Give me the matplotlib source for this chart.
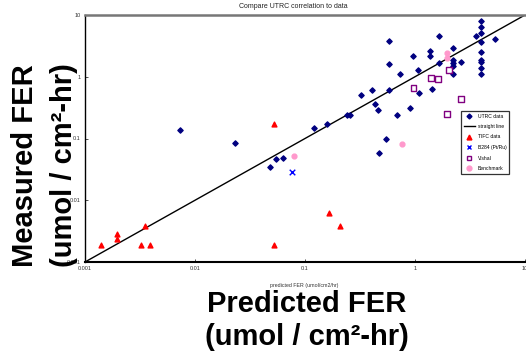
import matplotlib
matplotlib.use("Agg")
import matplotlib.pyplot as plt
from matplotlib.lines import Line2D

plt.rcParams['font.family'] = ['Liberation Sans', 'DejaVu Sans']

title = "Compare UTRC correlation to data"
xlabel_small = "predicted FER (umol/cm2/hr)"
big_line1_x = "Predicted FER"
big_line1_y = "Measured FER"
big_line2 = "(umol / cm\u00b2-hr)"
tick_vals = [0.001, 0.01, 0.1, 1, 10]
tick_labels = ["0.001", "0.01", "0.1", "1", "10"]

utrc_x = [0.0073, 0.122, 0.158, 0.241, 0.258, 0.322, 0.403, 0.432, 0.463,
          0.578, 0.578, 0.578, 0.54, 0.679, 0.728, 0.91, 0.968, 1.06, 1.096,
          1.38, 1.38, 1.43, 1.64, 1.64, 2.21, 2.21, 2.21, 2.21, 2.21, 2.6,
          3.56, 4.0, 4.0, 4.0, 4.0, 4.0, 4.0, 4.0, 4.0, 4.0, 5.32,
          0.0229, 0.0482, 0.054, 0.0628, 0.472]
utrc_y = [0.138, 0.149, 0.169, 0.237, 0.237, 0.506, 0.603, 0.361, 0.288,
          3.82, 1.58, 0.603, 0.1, 0.237, 1.11, 0.311, 2.18, 1.31, 0.546,
          2.6, 2.18, 0.634, 4.62, 1.66, 2.9, 1.88, 1.66, 1.48, 1.1, 1.72,
          4.62, 7.9, 6.3, 5.1, 3.64, 2.5, 1.88, 1.72, 1.39, 1.1, 4.03,
          0.085, 0.034, 0.046, 0.049, 0.059]

tifc_x = [0.052, 0.00139, 0.00194, 0.00194, 0.00322, 0.0035, 0.00388, 0.052, 0.164, 0.21]
tifc_y = [0.173, 0.00191, 0.00288, 0.00239, 0.00191, 0.00385, 0.00191, 0.00191, 0.00627, 0.00385]

b284_x = [0.0764]
b284_y = [0.0283]

vishal_x = [0.968, 1.39, 1.62, 2.04, 1.94, 2.6]
vishal_y = [0.667, 0.957, 0.91, 1.28, 0.252, 0.443]

bench_x = [1.94, 1.94, 0.0802, 0.769]
bench_y = [2.47, 2.02, 0.0524, 0.0807]

line_x = [0.001, 10]
line_y = [0.001, 10]

W, H = 526, 357
fig = plt.figure(figsize=(W / 100, H / 100), dpi=100)
ax = fig.add_axes([85 / W, 1 - 262 / H, 440 / W, 247 / H])

ax.plot(line_x, line_y, color='black', lw=1.0, label='straight line', zorder=2)
ax.scatter(utrc_x, utrc_y, marker='D', s=7, color='#000080', label='UTRC data', zorder=3)
ax.scatter(tifc_x, tifc_y, marker='^', s=12, color='#FF0000', label='TIFC data', zorder=3)
ax.scatter(b284_x, b284_y, marker='x', s=16, color='#0000FF', linewidths=1.0, label='B284 (Pt/Ru)', zorder=3)
ax.scatter(vishal_x, vishal_y, marker='s', s=18, facecolors='none', edgecolors='#800080',
           linewidths=1.0, label='Vishal', zorder=3)
ax.scatter(bench_x, bench_y, marker='o', s=12, color='#FF99CC', label='Benchmark', zorder=3)

ax.set_xscale('log')
ax.set_yscale('log')
ax.set_xlim(0.001, 10)
ax.set_ylim(0.001, 10)
ax.set_xticks(tick_vals)
ax.set_xticklabels(tick_labels)
ax.set_yticks(tick_vals)
ax.set_yticklabels(tick_labels)
ax.minorticks_off()
ax.tick_params(axis='both', direction='in', length=2, width=0.6, labelsize=4, pad=3, colors='#333333')

ax.spines['right'].set_visible(False)
ax.spines['top'].set_color('#777777')
ax.spines['top'].set_linewidth(1.8)
ax.spines['left'].set_linewidth(1.0)
ax.spines['bottom'].set_linewidth(1.5)

handles = [
    Line2D([], [], marker='D', ls='none', color='#000080', markersize=2.5),
    Line2D([], [], color='black', lw=1.0),
    Line2D([], [], marker='^', ls='none', color='#FF0000', markersize=3.5),
    Line2D([], [], marker='x', ls='none', color='#0000FF', markersize=3.5, mew=1.0),
    Line2D([], [], marker='s', ls='none', markerfacecolor='none', markeredgecolor='#800080',
           markersize=3.5, mew=1.0),
    Line2D([], [], marker='o', ls='none', color='#FF99CC', markersize=3.5),
]
labels = ['UTRC data', 'straight line', 'TIFC data', 'B284 (Pt/Ru)', 'Vishal', 'Benchmark']
leg = fig.legend(handles, labels, loc='upper left', bbox_to_anchor=(461 / W, 1 - 111 / H),
                 fontsize=3.6, frameon=True, fancybox=False, borderpad=0.5,
                 labelspacing=1.1, handlelength=2.2, handletextpad=0.6, borderaxespad=0)
leg.get_frame().set_edgecolor('black')
leg.get_frame().set_linewidth(0.9)

fig.text(293 / W, 1 - 6 / H, title, ha='center', va='center', fontsize=5, color='#222222')
fig.text(304 / W, 1 - 285 / H, xlabel_small, ha='center', va='center', fontsize=3.8, color='#333333')

big = dict(fontsize=21, fontweight='bold', color='black')
# bottom big label (two lines, baselines at 312 and 345 px)
fig.text(307 / W, 1 - 312 / H, big_line1_x, ha='center', va='baseline', **big)
fig.text(307 / W, 1 - 345 / H, big_line2, ha='center', va='baseline', **big)
# left big label (rotated, baselines at x=33 and x=72 px)
fig.text(33 / W, 1 - 166 / H, big_line1_y, ha='center', va='baseline', rotation=90,
         rotation_mode='anchor', **big)
fig.text(72 / W, 1 - 165 / H, big_line2, ha='center', va='baseline', rotation=90,
         rotation_mode='anchor', **big)

fig.savefig('out.png', dpi=100)
